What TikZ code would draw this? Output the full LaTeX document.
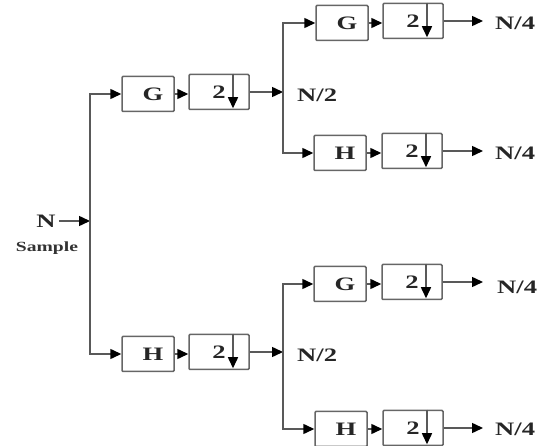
\documentclass[tikz,border=0pt]{standalone}
\usepackage{fontspec}
\setmainfont{Liberation Serif}
\newfontfamily\lblfont[FakeStretch=1.4]{Liberation Serif}
\usetikzlibrary{arrows.meta}
\begin{document}
\begin{tikzpicture}[x=1pt,y=-1pt,
  blk/.style={draw=black!60,line width=1.5pt,rounded corners=1pt,minimum width=52pt,minimum height=35pt,inner sep=0pt,text=black!85,font=\lblfont\fontsize{19}{19}\selectfont\bfseries},
  dwn/.style={blk,minimum width=60pt},
  wire/.style={draw=black!65,line width=1.5pt},
  arr/.style={wire,-{Triangle[length=11pt,width=10pt,fill=black,color=black]}},
  lbl/.style={inner sep=0pt,text=black!85,font=\lblfont\fontsize{19}{19}\selectfont\bfseries},
  slbl/.style={inner sep=0pt,text=black!80,font=\lblfont\fontsize{14}{14}\selectfont\bfseries}]
\useasboundingbox (0,0) rectangle (544,446);
% input
\node[lbl] (N) at (46,221) {N};
\node[slbl] (S) at (47,248) {Sample};
\coordinate (j0) at (90,221);
% stage 1
\node[blk] (g1) at (148,94) {\hspace*{10pt}G};
\node[dwn] (d1) at (219,92) {2};
\node[blk] (h1) at (148,354) {\hspace*{10pt}H};
\node[dwn] (d1b) at (219,352) {2};
\coordinate (j1) at (283,92);
\coordinate (j2) at (283,352);
\node[lbl,anchor=west] (n2a) at (297,95) {N/2};
\node[lbl,anchor=west] (n2b) at (297,355) {N/2};
% stage 2
\node[blk] (g2) at (342,23) {\hspace*{10pt}G};
\node[dwn] (d2) at (413,21) {2};
\node[blk] (h2) at (340,153) {\hspace*{10pt}H};
\node[dwn] (d3) at (412,151) {2};
\node[blk] (g3) at (340,284) {\hspace*{10pt}G};
\node[dwn] (d4) at (412,282) {2};
\node[blk] (h3) at (341,429) {\hspace*{10pt}H};
\node[dwn] (d5) at (413,428) {2};
\node[lbl,anchor=west] (n4a) at (495,23) {N/4};
\node[lbl,anchor=west] (n4b) at (495,153) {N/4};
\node[lbl,anchor=west] (n4c) at (497,287) {N/4};
\node[lbl,anchor=west] (n4d) at (495,429) {N/4};
% downsample arrows
\foreach \d in {d1,d1b,d2,d3,d4,d5}
  \draw[arr] ([xshift=14pt]\d.north) -- ([xshift=14pt,yshift=2pt]\d.south);
% connectors
\draw[arr] (N.east) ++(3,0) -- (j0);
\draw[arr] (j0) |- (g1.west);
\draw[arr] (j0) |- (h1.west);
\draw[arr] (g1.east) -- (d1.west |- g1.east);
\draw[arr] (h1.east) -- (d1b.west |- h1.east);
\draw[arr] (d1.east) -- (j1);
\draw[arr] (d1b.east) -- (j2);
\draw[arr] (j1) |- (g2.west);
\draw[arr] (j1) |- (h2.west);
\draw[arr] (j2) |- (g3.west);
\draw[arr] (j2) |- (h3.west);
\draw[arr] (g2.east) -- (d2.west |- g2.east);
\draw[arr] (h2.east) -- (d3.west |- h2.east);
\draw[arr] (g3.east) -- (d4.west |- g3.east);
\draw[arr] (h3.east) -- (d5.west |- h3.east);
\draw[arr] (d2.east) -- ([xshift=-12pt]n4a.west |- d2.east);
\draw[arr] (d3.east) -- ([xshift=-12pt]n4b.west |- d3.east);
\draw[arr] (d4.east) -- ([xshift=-14pt]n4c.west |- d4.east);
\draw[arr] (d5.east) -- ([xshift=-12pt]n4d.west |- d5.east);
\end{tikzpicture}
\end{document}
